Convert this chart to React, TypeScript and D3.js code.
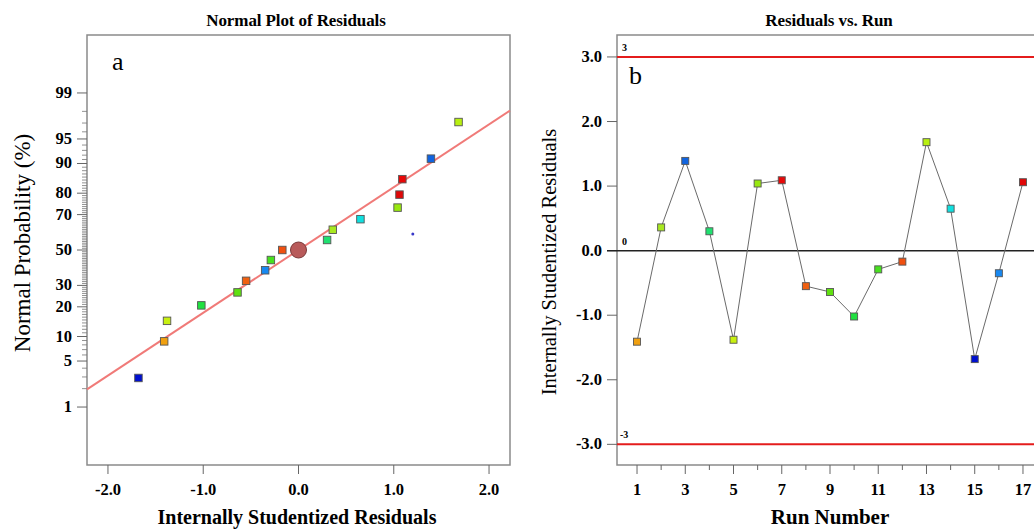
import React from "react";
import * as d3 from "d3";

// ---- data ----
const runs = [1, 2, 3, 4, 5, 6, 7, 8, 9, 10, 11, 12, 13, 14, 15, 16, 17];
const residuals = [-1.41, 0.36, 1.39, 0.30, -1.38, 1.04, 1.09, -0.55, -0.64, -1.02, -0.29, -0.17, 1.68, 0.65, -1.68, -0.35, 1.06];
const normalProb = [8.8, 61.8, 91.2, 55.9, 14.7, 73.5, 85.3, 32.4, 26.5, 20.6, 44.1, 50.0, 97.1, 67.6, 2.9, 38.2, 79.4];
const pointColors = ["#f0a010", "#a8e820", "#1064e0", "#20e070", "#c8f010", "#98e810", "#e80808", "#f06010", "#60e010", "#20e040", "#48e020", "#f05010", "#b8f010", "#10e0e0", "#0010d0", "#1888f0", "#e00808"];
const probMajorTicks = [1, 5, 10, 20, 30, 50, 70, 80, 90, 95, 99];
const probMinorTicks = d3.range(1, 100);
const residTicksL = [-2, -1, 0, 1, 2];
const residTicksR = [-3, -2, -1, 0, 1, 2, 3];
const runMajorTicks = [1, 3, 5, 7, 9, 11, 13, 15, 17];
const runMinorTicks = [2, 4, 6, 8, 10, 12, 14, 16];
const fitLine = { slope: 0.93 }; // z per residual unit
const centerPoint = { x: 0, p: 50 };
const strayDot = { x: 1.2, p: 59.4 };
const controlLimits = [-3, 3];

// inverse normal CDF (Acklam)
function invNorm(p: number): number {
  const a = [-39.69683028665376, 220.9460984245205, -275.9285104469687, 138.357751867269, -30.66479806614716, 2.506628277459239];
  const b = [-54.47609879822406, 161.5858368580409, -155.6989798598866, 66.80131188771972, -13.28068155288572];
  const c = [-0.007784894002430293, -0.3223964580411365, -2.400758277161838, -2.549732539343734, 4.374664141464968, 2.938163982698783];
  const dd = [0.007784695709041462, 0.3224671290700398, 2.445134137142996, 3.754408661907416];
  const pl = 0.02425;
  let q, r;
  if (p < pl) {
    q = Math.sqrt(-2 * Math.log(p));
    return (((((c[0] * q + c[1]) * q + c[2]) * q + c[3]) * q + c[4]) * q + c[5]) / ((((dd[0] * q + dd[1]) * q + dd[2]) * q + dd[3]) * q + 1);
  } else if (p <= 1 - pl) {
    q = p - 0.5; r = q * q;
    return (((((a[0] * r + a[1]) * r + a[2]) * r + a[3]) * r + a[4]) * r + a[5]) * q / (((((b[0] * r + b[1]) * r + b[2]) * r + b[3]) * r + b[4]) * r + 1);
  } else {
    q = Math.sqrt(-2 * Math.log(1 - p));
    return -(((((c[0] * q + c[1]) * q + c[2]) * q + c[3]) * q + c[4]) * q + c[5]) / ((((dd[0] * q + dd[1]) * q + dd[2]) * q + dd[3]) * q + 1);
  }
}

const FONT = "'Liberation Serif', 'Times New Roman', serif";

export default function App() {
  // left panel
  const L = { x0: 87, x1: 510, y0: 35, y1: 465 };
  const xL = d3.scaleLinear().domain([-2.22, 2.22]).range([L.x0, L.x1]);
  const zL = d3.scaleLinear().domain([-3.185, 3.185]).range([L.y1, L.y0]);
  const yL = (p: number) => zL(invNorm(p / 100));

  // right panel
  const R = { x0: 617, x1: 1043, y0: 35, y1: 465 };
  const xR = d3.scaleLinear().domain([0.17, 17.83]).range([R.x0, R.x1]);
  const yR = d3.scaleLinear().domain([-3.32, 3.34]).range([R.y1, R.y0]);

  const fitPath = d3.line<number>()
    .x((r) => xL(r))
    .y((r) => zL(fitLine.slope * r))([-2.22, 2.22]) || "";

  const runPath = d3.line<number>()
    .x((_, i) => xR(runs[i]))
    .y((v) => yR(v))(residuals) || "";

  const sq = 7.5;
  const sqR = 7;
  const fmt = (t: number) => d3.format(".1f")(t).replace("−", "-");

  return (
    <svg width={1034} height={529} style={{ position: "absolute", left: 0, top: 0, background: "#fff" }} fontFamily={FONT}>
      {/* ===== Left panel ===== */}
      <text x={296} y={26} textAnchor="middle" fontSize={17} fontWeight="bold" letterSpacing={-0.1}>Normal Plot of Residuals</text>
      <rect x={L.x0} y={L.y0} width={L.x1 - L.x0} height={L.y1 - L.y0} fill="none" stroke="#8a8a8a" strokeWidth={1.5} />
      {probMinorTicks.filter((p) => !probMajorTicks.includes(p)).map((p) => (
        <line key={"mn" + p} x1={L.x0 - 5} x2={L.x0} y1={yL(p)} y2={yL(p)} stroke="#777" strokeWidth={0.8} />
      ))}
      {probMajorTicks.map((p) => (
        <g key={"mj" + p}>
          <line x1={L.x0 - 10} x2={L.x0} y1={yL(p)} y2={yL(p)} stroke="#666" strokeWidth={1} />
          <text x={72} y={yL(p) + 5} textAnchor="end" fontSize={16.5} fontWeight="bold">{p}</text>
        </g>
      ))}
      {residTicksL.map((t) => (
        <g key={"xl" + t}>
          <line x1={xL(t)} x2={xL(t)} y1={L.y1} y2={L.y1 + 9} stroke="#666" strokeWidth={1} />
          <text x={xL(t)} y={495} textAnchor="middle" fontSize={16.5} fontWeight="bold">{fmt(t)}</text>
        </g>
      ))}
      <text x={297} y={524} textAnchor="middle" fontSize={20} fontWeight="bold">Internally Studentized Residuals</text>
      <text transform={`translate(30,243) rotate(-90)`} textAnchor="middle" fontSize={23}>Normal Probability (%)</text>
      <text x={112} y={70} fontSize={26}>a</text>
      <path d={fitPath} stroke="#f07a78" strokeWidth={2} fill="none" />
      <circle cx={xL(strayDot.x)} cy={yL(strayDot.p)} r={1.5} fill="#3838c8" />
      <circle cx={xL(centerPoint.x)} cy={yL(centerPoint.p)} r={8} fill="#b85a5a" stroke="#7a3a3a" strokeWidth={1} />
      {residuals.map((r, i) => (
        <rect key={"lp" + i} x={xL(r) - sq / 2} y={yL(normalProb[i]) - sq / 2} width={sq} height={sq} fill={pointColors[i]} stroke="#555" strokeWidth={0.9} />
      ))}

      {/* ===== Right panel ===== */}
      <text x={829} y={26} textAnchor="middle" fontSize={17} fontWeight="bold" letterSpacing={-0.1}>Residuals vs. Run</text>
      <rect x={R.x0} y={R.y0} width={R.x1 - R.x0} height={R.y1 - R.y0} fill="none" stroke="#8a8a8a" strokeWidth={1.5} />
      {residTicksR.map((t) => (
        <g key={"yr" + t}>
          <line x1={R.x0 - 10} x2={R.x0} y1={yR(t)} y2={yR(t)} stroke="#666" strokeWidth={1} />
          <text x={602} y={yR(t) + 5} textAnchor="end" fontSize={16.5} fontWeight="bold">{fmt(t)}</text>
        </g>
      ))}
      {runMajorTicks.map((t) => (
        <g key={"xr" + t}>
          <line x1={xR(t)} x2={xR(t)} y1={R.y1} y2={R.y1 + 9} stroke="#666" strokeWidth={1} />
          <text x={xR(t)} y={495} textAnchor="middle" fontSize={16.5} fontWeight="bold">{t}</text>
        </g>
      ))}
      {runMinorTicks.map((t) => (
        <line key={"xm" + t} x1={xR(t)} x2={xR(t)} y1={R.y1} y2={R.y1 + 5} stroke="#666" strokeWidth={1} />
      ))}
      <text x={830} y={524} textAnchor="middle" fontSize={21} fontWeight="bold">Run Number</text>
      <text transform={`translate(556,262) rotate(-90)`} textAnchor="middle" fontSize={20.5}>Internally Studentized Residuals</text>
      {controlLimits.map((c) => (
        <g key={"cl" + c}>
          <line x1={R.x0} x2={1034} y1={yR(c)} y2={yR(c)} stroke="#e41c1c" strokeWidth={2} />
          <text x={c < 0 ? 620 : 622} y={yR(c) - 6} fontSize={10} fontWeight="bold">{c}</text>
        </g>
      ))}
      <line x1={R.x0 - 10} x2={1034} y1={yR(0)} y2={yR(0)} stroke="#222" strokeWidth={1.5} />
      <text x={622} y={yR(0) - 6} fontSize={10} fontWeight="bold">0</text>
      <text x={629} y={84} fontSize={26}>b</text>
      <path d={runPath} stroke="#6a6a6a" strokeWidth={1} fill="none" />
      {residuals.map((r, i) => (
        <rect key={"rp" + i} x={xR(runs[i]) - sqR / 2} y={yR(r) - sqR / 2} width={sqR} height={sqR} fill={pointColors[i]} stroke="#555" strokeWidth={0.9} />
      ))}
    </svg>
  );
}
